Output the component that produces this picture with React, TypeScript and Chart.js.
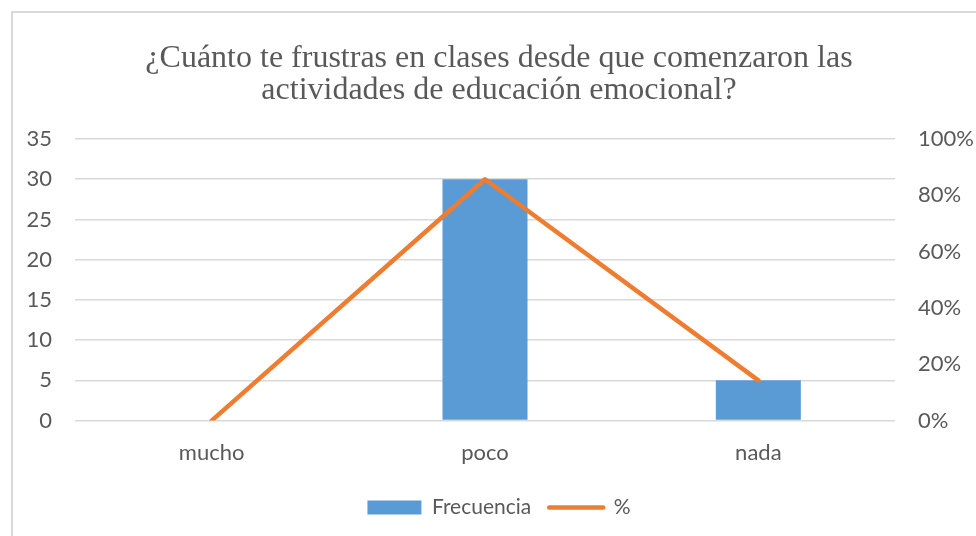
import React, { useEffect, useRef } from 'react';
import { Chart, registerables } from 'chart.js';

Chart.register(...registerables);

const titleLines = ['¿Cuánto te frustras en clases desde que comenzaron las', 'actividades de educación emocional?'];
const categories = ['mucho', 'poco', 'nada'];
const frecuencia = [0, 30, 5];
const porcentaje = [0, 85.71, 14.29];
const seriesNames = ['Frecuencia', '%'];
const leftMax = 35;
const leftStep = 5;
const rightMax = 100;
const rightStep = 20;

const BLUE = '#5B9BD5';
const ORANGE = '#ED7D31';
const TEXT = '#595959';
const GRID = '#d9d9d9';
const SANS = 'Lato, "Liberation Sans", sans-serif';

export default function App() {
  const ref = useRef<HTMLCanvasElement | null>(null);

  useEffect(() => {
    if (!ref.current) return;
    const chart = new Chart(ref.current, {
      type: 'bar',
      data: {
        labels: categories,
        datasets: [
          {
            type: 'bar',
            label: seriesNames[0],
            data: frecuencia,
            backgroundColor: BLUE,
            borderWidth: 0,
            yAxisID: 'y',
            categoryPercentage: 1,
            barPercentage: 0.311,
            order: 2,
          },
          {
            type: 'line',
            label: seriesNames[1],
            data: porcentaje,
            borderColor: ORANGE,
            backgroundColor: ORANGE,
            borderWidth: 4.5,
            borderCapStyle: 'round',
            borderJoinStyle: 'round',
            pointRadius: 0,
            pointHoverRadius: 0,
            tension: 0,
            yAxisID: 'y1',
            order: 1,
          },
        ],
      },
      options: {
        responsive: false,
        animation: false,
        events: [],
        layout: { padding: { left: 22, right: 0, top: 0, bottom: 8 } },
        plugins: {
          tooltip: { enabled: false },
          title: {
            display: true,
            text: titleLines,
            color: TEXT,
            font: { family: '"Liberation Serif", "Times New Roman", serif', size: 32, weight: 'normal', lineHeight: 1.0 },
            padding: { top: 43, bottom: 32 },
          },
          legend: {
            display: true,
            position: 'bottom',
            labels: {
              usePointStyle: true,
              pointStyleWidth: 54,
              boxHeight: 14,
              padding: 18,
              color: TEXT,
              font: { family: SANS, size: 21 },
              generateLabels: () => [
                {
                  text: seriesNames[0],
                  fillStyle: BLUE,
                  strokeStyle: BLUE,
                  lineWidth: 0,
                  pointStyle: 'rect',
                  datasetIndex: 0,
                  fontColor: TEXT,
                  hidden: false,
                },
                {
                  text: seriesNames[1],
                  fillStyle: ORANGE,
                  strokeStyle: ORANGE,
                  lineWidth: 4.5,
                  lineCap: 'round',
                  pointStyle: 'line',
                  datasetIndex: 1,
                  fontColor: TEXT,
                  hidden: false,
                },
              ],
            },
          },
        },
        scales: {
          x: {
            grid: { display: false, drawTicks: false },
            border: { display: false },
            ticks: { color: TEXT, font: { family: SANS, size: 22 }, padding: 19 },
            afterFit: (s: any) => { s.height -= 6; },
          },
          y: {
            position: 'left',
            min: 0,
            max: leftMax,
            ticks: { stepSize: leftStep, color: TEXT, font: { family: SANS, size: 22 }, padding: 23 },
            grid: { color: GRID, lineWidth: 1.5, drawTicks: false },
            border: { display: false },
            afterFit: (s: any) => { s.width = 53; },
          },
          y1: {
            position: 'right',
            min: 0,
            max: rightMax,
            ticks: {
              stepSize: rightStep,
              color: TEXT,
              font: { family: SANS, size: 22 },
              padding: 23,
              callback: (v: any) => v + '%',
            },
            grid: { display: false, drawTicks: false },
            border: { display: false },
            afterFit: (s: any) => { s.width = 81; },
          },
        },
      },
    } as any);
    return () => chart.destroy();
  }, []);

  return (
    <div style={{ position: 'fixed', left: 0, top: 0, width: 976, height: 536, overflow: 'hidden', background: '#fff' }}>
      <div style={{ position: 'absolute', left: 11, top: 11, width: 1100, height: 700, border: '2px solid #dadada', boxSizing: 'border-box' }} />
      <canvas ref={ref} width={976} height={536} style={{ position: 'absolute', left: 0, top: 0, width: 976, height: 536 }} />
    </div>
  );
}
